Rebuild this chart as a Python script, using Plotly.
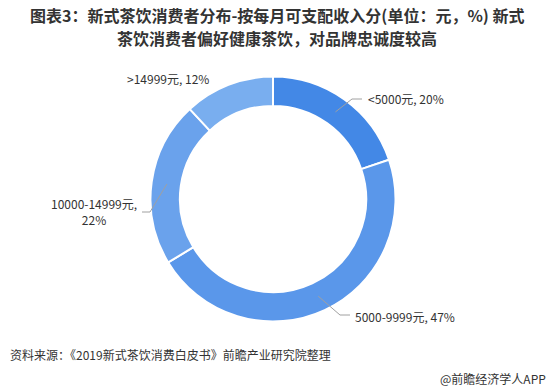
import math
import plotly.graph_objects as go

# ---- data ----
categories = ["<5000元", "5000-9999元", "10000-14999元", ">14999元"]
values = [20, 47, 22, 12]
label_texts = ["<5000元, 20%", "5000-9999元, 47%", "10000-14999元,<br>22%", ">14999元, 12%"]
colors = ["#4388e6", "#5a97ea", "#6aa2ec", "#79aeef"]

title_line1 = "图表3：新式茶饮消费者分布-按每月可支配收入分(单位：元，%) 新式"
title_line2 = "茶饮消费者偏好健康茶饮，对品牌忠诚度较高"
source_text = "资料来源：《2019新式茶饮消费白皮书》前瞻产业研究院整理"
brand_text = "@前瞻经济学人APP"

W, H = 554, 390
FONT = "Noto Sans CJK SC, Microsoft YaHei, sans-serif"

# pie geometry (pixels)
cx, cy, R = 273, 199, 122.5
hole = 0.76


def px(x, y):
    return x / W, 1 - y / H


fig = go.Figure()
fig.add_trace(go.Pie(
    labels=categories, values=values, hole=hole, sort=False,
    direction="clockwise", rotation=0,
    marker=dict(colors=colors, line=dict(color="white", width=2)),
    textinfo="none", hoverinfo="label+value", showlegend=False,
    domain=dict(x=[(cx - R) / W, (cx + R) / W],
                y=[(H - cy - R) / H, (H - cy + R) / H]),
))

# leader-line layout: (elbow, end, text anchor, xanchor) in pixels
label_layout = [
    dict(elbow=(352, 99), end=(362, 99), text=(366, 98), xanchor="left", line=True),
    dict(elbow=(340, 315), end=(350, 315), text=(353, 316), xanchor="left", line=True),
    dict(elbow=(150, 212), end=(142, 212), text=(139, 212), xanchor="right", line=True),
    dict(elbow=None, end=None, text=(168, 79), xanchor="center", line=False),
]

total = sum(values)
cum = 0
shapes = []
annotations = []
for v, txt, lay in zip(values, label_texts, label_layout):
    mid = (cum + v / 2) / total * 2 * math.pi
    cum += v
    r0 = R * 0.875
    sx, sy = cx + r0 * math.sin(mid), cy - r0 * math.cos(mid)
    if lay["line"]:
        p0 = px(sx, sy)
        p1 = px(*lay["elbow"])
        p2 = px(*lay["end"])
        shapes.append(dict(
            type="path", xref="paper", yref="paper",
            path=f"M {p0[0]} {p0[1]} L {p1[0]} {p1[1]} L {p2[0]} {p2[1]}",
            line=dict(color="#a0a0a0", width=1),
        ))
    tx, ty = px(*lay["text"])
    annotations.append(dict(
        x=tx, y=ty, xref="paper", yref="paper", text=txt, showarrow=False,
        xanchor=lay["xanchor"], yanchor="middle", align="center",
        font=dict(family=FONT, size=12, color="#333333"),
    ))

# title (two separate lines) and footers
for txt, y in [(title_line1, 15.5), (title_line2, 38.5)]:
    tx, ty = px(277, y)
    annotations.append(dict(
        x=tx, y=ty, xref="paper", yref="paper",
        text=f"<b>{txt}</b>", showarrow=False,
        xanchor="center", yanchor="middle", align="center",
        font=dict(family=FONT, size=16, color="#333333"),
    ))
annotations.append(dict(
    x=px(8, 354)[0], y=px(8, 354)[1], xref="paper", yref="paper", text=source_text,
    showarrow=False, xanchor="left", yanchor="middle",
    font=dict(family=FONT, size=12, color="#333333"),
))
annotations.append(dict(
    x=px(548, 378)[0], y=px(548, 378)[1], xref="paper", yref="paper", text=brand_text,
    showarrow=False, xanchor="right", yanchor="middle",
    font=dict(family=FONT, size=12, color="#333333"),
))

fig.update_layout(
    width=W, height=H, margin=dict(l=0, r=0, t=0, b=0),
    paper_bgcolor="white", plot_bgcolor="white",
    shapes=shapes, annotations=annotations,
)
fig.write_html(
    "out.html",
    config={"displayModeBar": False},
    post_script="document.body.style.margin='0';document.body.style.overflow='hidden';",
)
